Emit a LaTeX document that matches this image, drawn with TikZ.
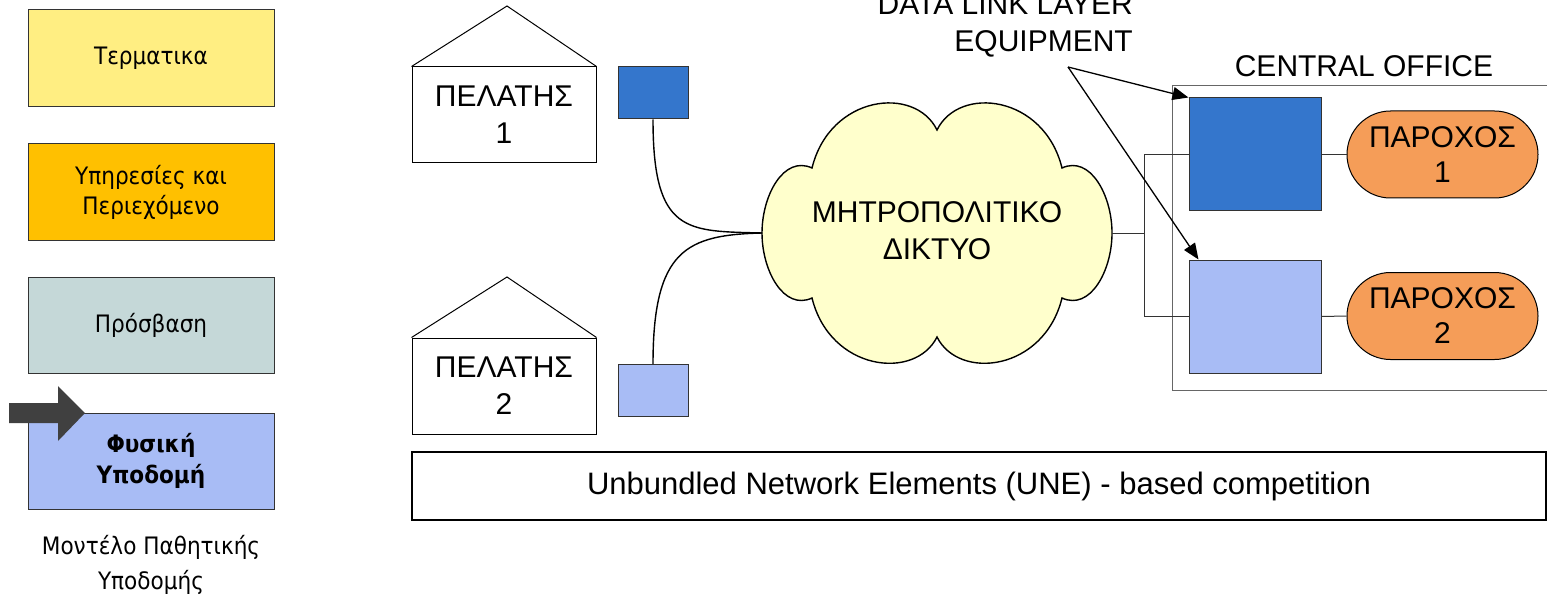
\documentclass[tikz,border=0pt]{standalone}
\usepackage{fontspec}
\setmainfont{Liberation Sans}
\newfontfamily\vfont[FakeStretch=0.9]{DejaVu Sans}
\usetikzlibrary{shapes.misc,arrows.meta,calc}
\definecolor{cYel}{HTML}{FFEE82}
\definecolor{cOra}{HTML}{FFC000}
\definecolor{cGry}{HTML}{C5D8D8}
\definecolor{cLbl}{HTML}{A8BCF5}
\definecolor{cDbl}{HTML}{3476CC}
\definecolor{cPrv}{HTML}{F59D58}
\definecolor{cCld}{HTML}{FFFFCC}
\definecolor{cArr}{HTML}{404040}
\tikzset{
  layerbox/.style={draw=black!80, line width=1pt, minimum width=246pt, minimum height=96pt, inner sep=0pt, align=center, font=\vfont\fontsize{24}{30}\selectfont},
  housebody/.style={draw, line width=1pt, minimum width=184pt, minimum height=96pt, inner sep=0pt, align=center, font=\fontsize{30}{37}\selectfont},
  smallsq/.style={draw=black!80, line width=1pt, minimum width=70pt, minimum height=52pt, inner sep=0pt},
  eqsq/.style={draw=black!80, line width=1pt, minimum width=132pt, minimum height=113pt, inner sep=0pt},
  provider/.style={rounded rectangle, draw, fill=cPrv, line width=1pt, minimum width=191pt, minimum height=87pt, inner sep=0pt, align=center, font=\fontsize{30}{35}\selectfont},
  thinline/.style={draw=black!80, line width=1pt},
  wire/.style={draw=black, line width=1.4pt},
  lbl/.style={inner sep=0pt, align=center, font=\fontsize{30}{37}\selectfont},
  pointer/.style={draw=black, line width=1.3pt, -{Triangle[length=16pt,width=13pt]}}
}
\begin{document}
\begin{tikzpicture}[x=1pt,y=-1pt]
\useasboundingbox (0,0) rectangle (1547,596);
% left column
\node[layerbox, fill=cYel, minimum height=97pt] (t1) at (151,58.5) {Τερματικα};
\node[layerbox, fill=cOra] (t2) at (151,192) {Υπηρεσίες και\\Περιεχόμενο};
\node[layerbox, fill=cGry] (t3) at (151,325) {Πρόσβαση};
\node[layerbox, fill=cLbl, font=\vfont\bfseries\fontsize{24}{31}\selectfont] (t4) at (151,461) {Φυσική\\Υποδομή};
\node[inner sep=0pt, align=center, font=\vfont\fontsize{24}{35}\selectfont] (cap) at (151,565) {Μοντέλο Παθητικής\\Υποδομής};
\fill[cArr] (9,403) -- (58,403) -- (58,386) -- (85,413) -- (58,441) -- (58,423) -- (9,423) -- cycle;
% houses
\node[housebody] (h1) at (504,115) {ΠΕΛΑΤΗΣ\\1};
\draw[line width=1pt] (h1.north west) -- (507,6) -- (h1.north east);
\node[housebody] (h2) at (504,386) {ΠΕΛΑΤΗΣ\\2};
\draw[line width=1pt] (h2.north west) -- (507,277) -- (h2.north east);
% small squares
\node[smallsq, fill=cDbl] (s1) at (653,93) {};
\node[smallsq, fill=cLbl] (s2) at (653,390.5) {};
% cloud
\draw[line width=1.4pt, fill=cCld]
  (812,168) .. controls (830,95) and (915,85) .. (937,130)
  .. controls (959,85) and (1044,95) .. (1062,168)
  .. controls (1090,155) and (1112,195) .. (1112,233)
  .. controls (1112,271) and (1090,311) .. (1062,298)
  .. controls (1044,371) and (959,381) .. (937,337)
  .. controls (915,381) and (830,371) .. (812,298)
  .. controls (784,311) and (762,271) .. (762,233)
  .. controls (762,195) and (784,155) .. (812,168) -- cycle;
\coordinate (cloudL) at (762,233);
\coordinate (cloudR) at (1112,233);
\node[lbl] (cloud) at (937,231) {ΜΗΤΡΟΠΟΛΙΤΙΚΟ\\ΔΙΚΤΥΟ};
\draw[wire] (s1.south) .. controls +(0,115) and +(-75,-2) .. (cloudL);
\draw[wire] (s2.north) .. controls +(0,-115) and +(-75,2) .. (cloudL);
% central office
\node[draw=black!60, line width=1pt, anchor=north west, minimum width=420pt, minimum height=305pt, inner sep=0pt] (co) at (1172,85) {};
\node[lbl] (colabel) at (1364,66) {CENTRAL OFFICE};
\node[eqsq, fill=cDbl] (A) at (1255,154.5) {};
\node[eqsq, fill=cLbl] (B) at (1255,316.5) {};
\node[provider] (p1) at (1442.5,154.5) {ΠΑΡΟΧΟΣ\\1};
\node[provider] (p2) at (1442.5,316) {ΠΑΡΟΧΟΣ\\2};
\coordinate (j) at (1144,233);
\draw[thinline] (cloudR) -- (j);
\draw[thinline] (A.west) -| (j) |- (B.west);
\draw[thinline] (A.east) -- (p1.west);
\draw[thinline] (B.east) -- (p2.west);
% data link layer label
\node[inner sep=0pt, align=right, anchor=east, font=\fontsize{30}{37}\selectfont] (dll) at (1133,25.5) {DATA LINK LAYER\\EQUIPMENT};
\coordinate (dlls) at (1068,67);
\draw[pointer] (dlls) -- (A.north west);
\draw[pointer] (dlls) -- ([xshift=10pt]B.north west);
% banner
\node[draw, line width=1.2pt, minimum width=1134pt, minimum height=68pt, inner sep=0pt, font=\fontsize{31}{37}\selectfont] (une) at (979,486) {Unbundled Network Elements (UNE) - based competition};
\end{tikzpicture}
\end{document}
